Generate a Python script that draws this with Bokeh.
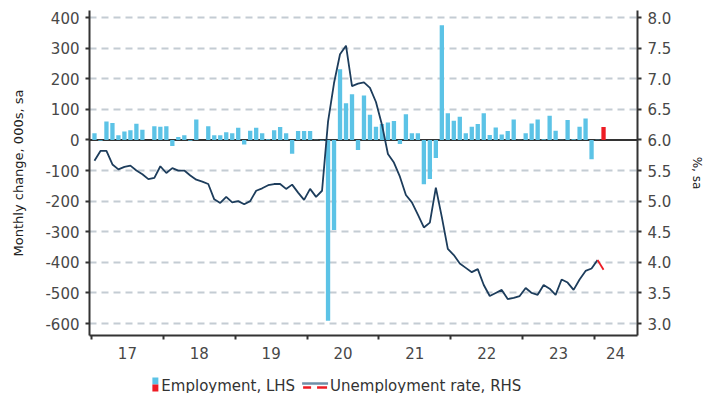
from bokeh.plotting import figure
from bokeh.models import Range1d, LinearAxis, FixedTicker, Span, Label, Grid
from bokeh.layouts import column
from bokeh.embed import file_html
from bokeh.resources import INLINE

# ---------------- data ----------------
months = [f"{y}-{m:02d}" for y in range(2017, 2025) for m in range(1, 13)][:86]

employment = [
    22, -3, 60, 55, 15, 28, 32, 53, 33, 0, 45, 43,        # 2017
    45, -20, 10, 15, -3, 67, 0, 45, 15, 15, 25, 22,       # 2018
    40, -15, 30, 40, 22, 2, 32, 42, 22, -45, 29, 29,      # 2019
    29, 1, -2, -591, -294, 231, 120, 149, -33, 145, 82, 43,  # 2020
    52, 57, 62, -13, 84, 22, 22, -145, -128, -59, 375, 87,   # 2021
    63, 76, 22, 43, 52, 87, 16, 41, 18, 29, 67, 1,        # 2022
    22, 54, 67, 2, 79, 30, 1, 65, 2, 43, 70, -63,         # 2023
    1, 42,                                                # 2024
]

unemployment = [
    5.66, 5.82, 5.82, 5.60, 5.52, 5.56, 5.58, 5.50, 5.44, 5.36, 5.38, 5.57,
    5.46, 5.54, 5.50, 5.50, 5.42, 5.35, 5.32, 5.28, 5.03, 4.97, 5.07, 4.98,
    5.00, 4.95, 5.00, 5.17, 5.21, 5.26, 5.28, 5.28, 5.20, 5.27, 5.14, 5.02,
    5.20, 5.07, 5.17, 6.30, 6.93, 7.40, 7.54, 6.88, 6.92, 6.94, 6.85, 6.62,
    6.25, 5.77, 5.63, 5.40, 5.10, 4.98, 4.78, 4.57, 4.65, 5.22, 4.74, 4.22,
    4.12, 3.98, 3.91, 3.84, 3.89, 3.63, 3.45, 3.50, 3.55, 3.40, 3.42, 3.45,
    3.58, 3.50, 3.47, 3.63, 3.57, 3.47, 3.72, 3.67, 3.55, 3.72, 3.86, 3.90,
    4.04, 3.88,
]

year_labels = ["17", "18", "19", "20", "21", "22", "23", "24"]
left_ticks = [-600, -500, -400, -300, -200, -100, 0, 100, 200, 300, 400]
right_ticks = [3.0, 3.5, 4.0, 4.5, 5.0, 5.5, 6.0, 6.5, 7.0, 7.5, 8.0]

legend_labels = ["Employment, LHS", "Unemployment rate, RHS"]

# ---------------- styling ----------------
BAR_BLUE = "#5cc3e6"
RED = "#ee1c24"
LINE_NAVY = "#1d3d5c"
AXIS = "#333333"
TICK_TXT = "#484848"
GRID = "#c4ccd3"
FONT = "DejaVu Sans"

x = [i + 0.5 for i in range(len(months))]

p = figure(width=707, height=364,
           x_range=Range1d(-0.33, 91.17), y_range=Range1d(-639, 423),
           output_backend="svg", toolbar_location=None,
           min_border_left=89, min_border_right=69,
           min_border_top=10, min_border_bottom=29,
           x_axis_type=None, y_axis_type=None)
p.outline_line_color = None
p.background_fill_color = "white"
p.border_fill_color = "white"
p.extra_y_ranges = {"ur": Range1d(6 + (-639) / 200, 6 + 423 / 200)}

# axes
yl = LinearAxis(ticker=FixedTicker(ticks=left_ticks),
                major_label_overrides={t: str(t) for t in left_ticks})
yl.axis_label = "Monthly change, 000s, sa"
p.add_layout(yl, "left")

yr = LinearAxis(y_range_name="ur", ticker=FixedTicker(ticks=right_ticks),
                major_label_overrides={t: f"{t:.1f}" for t in right_ticks})
yr.axis_label = "%, sa"
p.add_layout(yr, "right")

year_pos = [6 + 12 * k for k in range(7)] + [87.5]
xb = LinearAxis(ticker=FixedTicker(ticks=year_pos, minor_ticks=[12 * k for k in range(8)]),
                major_label_overrides={pos: lab for pos, lab in zip(year_pos, year_labels)})
p.add_layout(xb, "below")

for ax in (yl, yr, xb):
    ax.axis_line_color = AXIS
    ax.axis_line_width = 2
    ax.major_label_text_font = FONT
    ax.major_label_text_font_size = "15px"
    ax.major_label_text_color = TICK_TXT
    ax.axis_label_text_font = FONT
    ax.axis_label_text_font_style = "normal"
    ax.axis_label_text_color = "#222222"

for ax in (yl, yr):
    ax.major_tick_line_color = AXIS
    ax.major_tick_line_width = 2
    ax.major_tick_out = 4
    ax.major_tick_in = 0
    ax.minor_tick_line_color = None
    ax.major_label_standoff = 6

yl.axis_label_text_font_size = "13px"
yl.axis_label_standoff = 16
yr.axis_label_text_font_size = "12px"
yr.axis_label_standoff = 16

xb.major_tick_line_color = None
xb.major_tick_out = 4
xb.major_tick_in = 0
xb.minor_tick_line_color = AXIS
xb.minor_tick_line_width = 2
xb.minor_tick_out = 4
xb.minor_tick_in = 0
xb.major_label_standoff = 7

# grid (dashed, not at zero)
grid = Grid(dimension=1, ticker=FixedTicker(ticks=[t for t in left_ticks if t != 0]),
            grid_line_color=GRID, grid_line_width=2, grid_line_dash="7 5")
p.add_layout(grid)

zero = Span(location=0, dimension="width", line_color=AXIS, line_width=2, level="underlay")
p.add_layout(zero)

# bars
p.vbar(x=x[:-1], top=employment[:-1], bottom=0, width=0.72,
       fill_color=BAR_BLUE, line_color=None)
p.vbar(x=x[-1:], top=employment[-1:], bottom=0, width=0.72,
       fill_color=RED, line_color=None)

# unemployment line
p.line(x[:-1], unemployment[:-1], y_range_name="ur", line_color=LINE_NAVY, line_width=1.8)
p.line(x[-2:], unemployment[-2:], y_range_name="ur", line_color=RED, line_width=1.8)

# ---------------- legend strip (x in page pixels; frame aligned with main frame) ----------------
lg = figure(width=707, height=29, x_range=Range1d(89, 638), y_range=Range1d(29, 0),
            output_backend="svg", toolbar_location=None,
            min_border=0, x_axis_type=None, y_axis_type=None)
lg.outline_line_color = None

lg.quad(left=[152], right=[158], top=[13], bottom=[20], fill_color=BAR_BLUE, line_color=None)
lg.quad(left=[152], right=[158], top=[20], bottom=[27], fill_color=RED, line_color=None)
lg.add_layout(Label(x=161, y=21, text=legend_labels[0], text_baseline="middle",
                    text_align="left", text_font=FONT, text_font_size="15px",
                    text_color="#333333"))

lg.line([302, 328], [19, 19], line_color="#6f8fa8", line_width=2.5)
lg.line([303, 311], [23, 23], line_color=RED, line_width=2.5)
lg.line([317, 327], [23, 23], line_color=RED, line_width=2.5)
lg.add_layout(Label(x=330, y=21, text=legend_labels[1], text_baseline="middle",
                    text_align="left", text_font=FONT, text_font_size="15px",
                    text_color="#333333"))

layout = column(p, lg, spacing=0)
open("out.html", "w").write(file_html(layout, INLINE))
